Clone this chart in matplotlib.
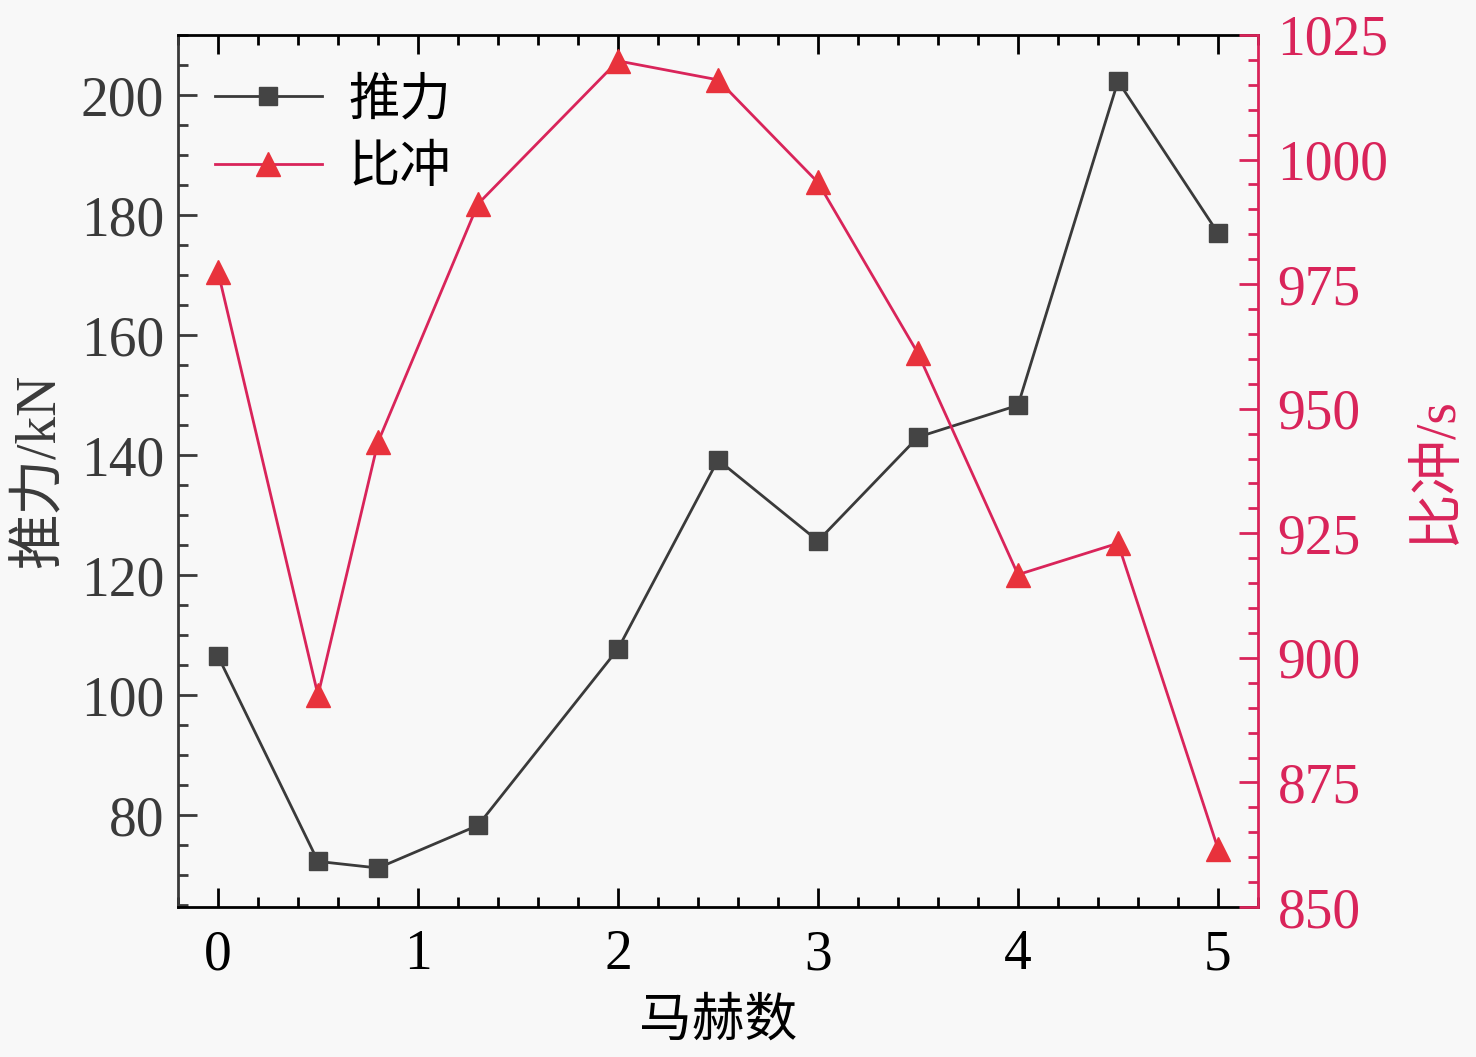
import matplotlib
matplotlib.use("Agg")
import matplotlib.pyplot as plt
from matplotlib.ticker import MultipleLocator

plt.rcParams['font.family'] = ['Liberation Serif', 'Noto Sans CJK SC', 'DejaVu Sans']
plt.rcParams['axes.unicode_minus'] = False

# data
mach = [0, 0.5, 0.8, 1.3, 2, 2.5, 3, 3.5, 4, 4.5, 5]
thrust = [106.5, 72.3, 71.2, 78.3, 107.7, 139.2, 125.7, 143.0, 148.3, 202.3, 177.0]
isp = [977.5, 892.5, 943.3, 991.1, 1019.8, 1016.0, 995.4, 961.1, 916.7, 923.0, 861.7]

darkgray = '#3a3a3a'
pink = '#d9245a'

fig = plt.figure(figsize=(14.76, 10.57), dpi=100, facecolor='#f8f8f8')
ax1 = fig.add_axes([0.1206, 0.1419, 0.7317, 0.825])
ax1.set_facecolor('#f8f8f8')
ax2 = ax1.twinx()

l1, = ax1.plot(mach, thrust, '-s', color=darkgray, lw=2.0, ms=12.5,
               mfc='#444444', mec='#444444', label='推力')
l2, = ax2.plot(mach, isp, '-^', color=pink, lw=2.0, ms=17,
               mfc='#e8323c', mec='#e8323c', label='比冲')

ax1.set_xlim(-0.2, 5.2)
ax1.set_ylim(64.7, 210)
ax2.set_ylim(850, 1025)

ax1.xaxis.set_major_locator(MultipleLocator(1))
ax1.xaxis.set_minor_locator(MultipleLocator(0.2))
ax1.yaxis.set_major_locator(MultipleLocator(20))
ax1.yaxis.set_minor_locator(MultipleLocator(5))
ax2.yaxis.set_major_locator(MultipleLocator(25))
ax2.yaxis.set_minor_locator(MultipleLocator(5))

ax1.tick_params(axis='x', which='both', direction='in', top=True, colors='black',
                labelsize=40, pad=16, width=2)
ax1.tick_params(axis='x', which='major', length=14)
ax1.tick_params(axis='x', which='minor', length=7)
ax1.tick_params(axis='y', which='both', direction='in', colors=darkgray,
                labelsize=40, pad=10, width=2)
ax1.tick_params(axis='y', which='major', length=14)
ax1.tick_params(axis='y', which='minor', length=7)
ax2.tick_params(axis='y', which='both', direction='in', colors=pink,
                labelsize=40, pad=14, width=2)
ax2.tick_params(axis='y', which='major', length=14)
ax2.tick_params(axis='y', which='minor', length=7)

for s in ['top', 'bottom']:
    ax1.spines[s].set_color('black')
    ax1.spines[s].set_linewidth(2)
ax1.spines['left'].set_color(darkgray)
ax1.spines['left'].set_linewidth(2)
ax2.spines['left'].set_visible(False)
ax2.spines['top'].set_visible(False)
ax2.spines['bottom'].set_visible(False)
ax2.spines['right'].set_color(pink)
ax2.spines['right'].set_linewidth(2)
ax1.spines['right'].set_visible(False)

ax1.set_xlabel('马赫数', fontsize=38, color='black', labelpad=12)
ax1.set_ylabel('推力/kN', fontsize=40, color=darkgray, labelpad=10)
ax2.set_ylabel('比冲/s', fontsize=40, color=pink, labelpad=16)

leg = ax1.legend(handles=[l1, l2], loc='upper left', frameon=False, fontsize=37,
                 handlelength=2.1, handletextpad=0.5,
                 bbox_to_anchor=(-0.009, 1.004), labelspacing=0.4)

fig.savefig('out.png', dpi=100, facecolor=fig.get_facecolor())
